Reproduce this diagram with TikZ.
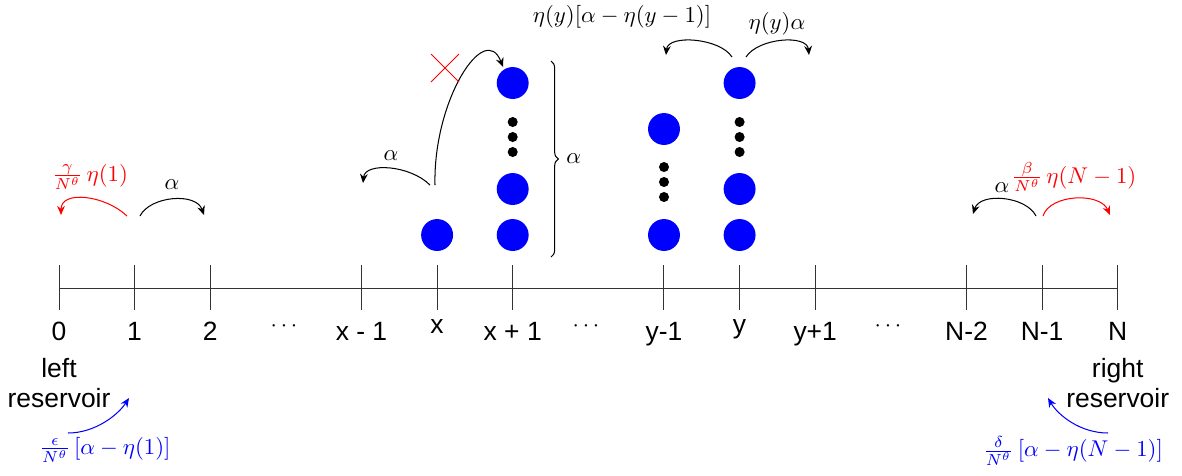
\documentclass[tikz,border=0pt]{standalone}
\usepackage{fontspec}
\newfontfamily\labfont{Liberation Sans}
\usetikzlibrary{arrows.meta,decorations.pathreplacing}
\begin{document}
\begin{tikzpicture}[x=0.4386pt,y=-0.4386pt,
  arr/.style={-{Stealth[length=4pt,width=3.4pt]}, line width=0.45pt},
  particle/.style={circle, fill=blue, inner sep=0pt, minimum size=14pt},
  smalldot/.style={circle, fill=black, inner sep=0pt, minimum size=4.4pt},
  sitelab/.style={font=\labfont\fontsize{11.6}{13.2}\selectfont, anchor=base, inner sep=0pt},
  reslab/.style={font=\labfont\fontsize{11.6}{13.2}\selectfont, anchor=north, inner sep=0pt, align=center},
  mlab/.style={inner sep=0pt},
  ticksty/.style={line width=0.42pt, draw=black!80}
]
\useasboundingbox (0,0) rectangle (1182,475);

% ticks and axis
\foreach \i/\n in {0/0,1/1,2/2,4/xm,5/x,6/xp,8/ym,9/y,10/yp,12/Nmm,13/Nm,14/N} {
  \coordinate (t\n) at ({59+75.62*\i},288);
  \draw[ticksty] ({59+75.62*\i},265) -- ({59+75.62*\i},310);
}
\draw[ticksty] (t0) -- (tN);

% site labels
\node[sitelab] (l0) at (59,340) {0};
\node[sitelab] (l1) at (134.6,340) {1};
\node[sitelab] (l2) at (210.2,340) {2};
\node[sitelab] (lxm) at (361.5,340) {x - 1};
\node[sitelab] (lx) at (437.1,333) {x};
\node[sitelab] (lxp) at (512.7,340) {x + 1};
\node[sitelab] (lym) at (664,340) {y-1};
\node[sitelab] (ly) at (739.6,333) {y};
\node[sitelab] (lyp) at (815.2,340) {y+1};
\node[sitelab] (lNmm) at (966.5,340) {N-2};
\node[sitelab] (lNm) at (1042.1,340) {N-1};
\node[sitelab] (lN) at (1117.7,340) {N};
\node[anchor=base, inner sep=0pt] (d1) at (284,331) {$\cdots$};
\node[anchor=base, inner sep=0pt] (d2) at (586,331) {$\cdots$};
\node[anchor=base, inner sep=0pt] (d3) at (888,331) {$\cdots$};

% reservoirs
\node[reslab] (lres) at (59,358) {left\\reservoir};
\node[reslab] (rres) at (1117.7,358) {right\\reservoir};

% particles
\node[particle] (px) at (437.1,235) {};
\node[particle] (pxp1) at (512.7,235) {};
\node[particle] (pxp2) at (512.7,189) {};
\node[particle] (pxp3) at (512.7,83) {};
\foreach \yy in {122,137,152} \node[smalldot] at (512.7,\yy) {};
\node[particle] (pym1) at (664,235) {};
\node[particle] (pym2) at (664,129) {};
\foreach \yy in {167,182,197} \node[smalldot] at (664,\yy) {};
\node[particle] (py1) at (739.6,235) {};
\node[particle] (py2) at (739.6,189) {};
\node[particle] (py3) at (739.6,83) {};
\foreach \yy in {122,137,152} \node[smalldot] at (739.6,\yy) {};

% brace
\coordinate (bt) at (551,61);
\coordinate (bb) at (551,257);
\draw[line width=0.45pt, decorate, decoration={brace, amplitude=3.2pt}] (bt) -- (bb);
\node[mlab, anchor=west] (abr) at (566,159) {$\alpha$};

% left boundary arrows
\coordinate (r1s) at (127,216); \coordinate (r1e) at (61,215);
\draw[arr, red] (r1s) .. controls (105,195) and (61,190) .. (r1e);
\node[mlab, red] (r1l) at (90,177) {$\frac{\gamma}{N^{\theta}}\,\eta(1)$};
\coordinate (b1s) at (140,216); \coordinate (b1e) at (204,215);
\draw[arr] (b1s) .. controls (150,196) and (196,192) .. (b1e);
\node[mlab] (b1l) at (172,185) {$\alpha$};

% right boundary arrows
\coordinate (b2s) at (1036,216); \coordinate (b2e) at (973,214);
\draw[arr] (b2s) .. controls (1026,196) and (980,192) .. (b2e);
\node[mlab] (b2l) at (1002,188) {$\alpha$};
\coordinate (r2s) at (1043,216); \coordinate (r2e) at (1110,215);
\draw[arr, red] (r2s) .. controls (1050,194) and (1100,192) .. (r2e);
\node[mlab, red] (r2l) at (1074,177) {$\frac{\beta}{N^{\theta}}\,\eta(N-1)$};

% jumps from x
\coordinate (xs1) at (430,185); \coordinate (xe1) at (363,183);
\draw[arr] (xs1) .. controls (410,165) and (365,162) .. (xe1);
\node[mlab] (xl1) at (391,156) {$\alpha$};
\coordinate (xs2) at (435,185); \coordinate (xe2) at (503,67);
\draw[arr] (xs2) .. controls (433,100) and (485,20) .. (xe2);
\draw[red, line width=0.45pt] (431,54) -- (459,82) (431,82) -- (459,54);

% jumps from y
\coordinate (ys1) at (732,57); \coordinate (ye1) at (666,55);
\draw[arr] (ys1) .. controls (720,38) and (668,34) .. (ye1);
\coordinate (ys2) at (746,57); \coordinate (ye2) at (809,55);
\draw[arr] (ys2) .. controls (758,38) and (807,34) .. (ye2);
\node[mlab] (yl1) at (622,17) {$\eta(y)[\alpha-\eta(y-1)]$};
\node[mlab] (yl2) at (777,24) {$\eta(y)\alpha$};

% reservoir injections
\coordinate (bl1s) at (68,433); \coordinate (bl1e) at (129,398);
\draw[arr, blue] (bl1s) .. controls (95,433) and (118,415) .. (bl1e);
\node[mlab, blue] (bl1l) at (105,450) {$\frac{\epsilon}{N^{\theta}}\,[\alpha-\eta(1)]$};
\coordinate (bl2s) at (1108,433); \coordinate (bl2e) at (1048,398);
\draw[arr, blue] (bl2s) .. controls (1080,433) and (1058,415) .. (bl2e);
\node[mlab, blue] (bl2l) at (1073,451) {$\frac{\delta}{N^{\theta}}\,[\alpha-\eta(N-1)]$};
\end{tikzpicture}
\end{document}
